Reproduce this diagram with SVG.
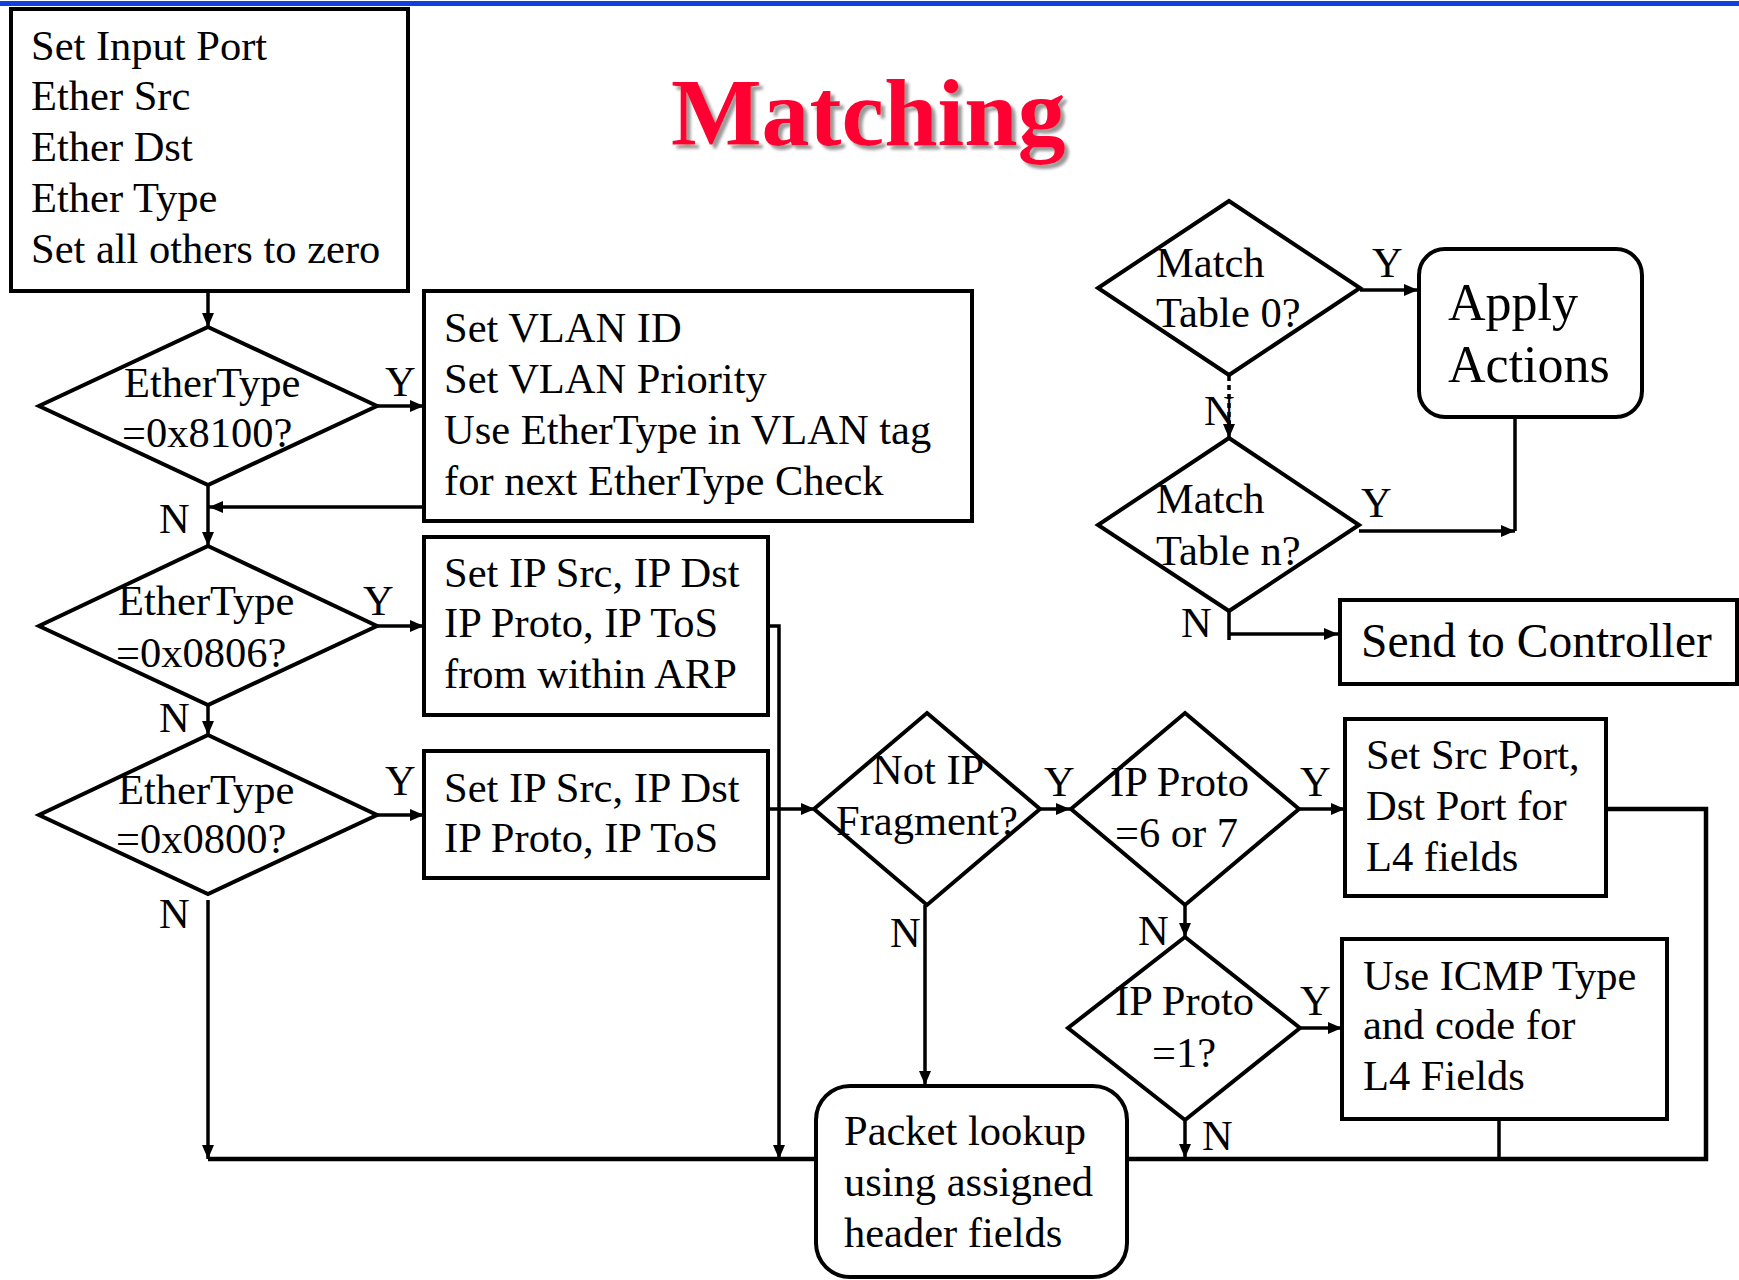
<svg xmlns="http://www.w3.org/2000/svg" width="1739" height="1280" viewBox="0 0 1739 1280">
<defs>
<style>
text{font-family:"Liberation Serif","Times New Roman",serif;fill:#000}
.t{font-size:42.5px}
.box{fill:#fff;stroke:#000;stroke-width:4}
.dia{fill:#fff;stroke:#000;stroke-width:4;stroke-linejoin:miter}
.c{fill:none;stroke:#000;stroke-width:3.5}
.ca{fill:none;stroke:#000;stroke-width:3.5;marker-end:url(#ah)}
.title{font-size:96px;font-weight:bold;fill:#ff0030}
</style>
<marker id="ah" markerUnits="userSpaceOnUse" markerWidth="14" markerHeight="12" refX="14" refY="6" orient="auto">
<path d="M0,0 L14,6 L0,12 z" fill="#000"/>
</marker>
<filter id="shadow" x="-10%" y="-20%" width="125%" height="150%">
<feDropShadow dx="4" dy="4" stdDeviation="1.6" flood-color="#808080" flood-opacity="0.8"/>
</filter>
</defs>
<rect x="0" y="0" width="1739" height="1280" fill="#fff"/>
<rect x="0" y="1" width="1739" height="5" fill="#1040e0"/>

<g id="title">
<text class="title" x="671" y="145" filter="url(#shadow)">Matching</text>
</g>

<g id="connectors">
<line class="ca" x1="208" y1="293" x2="208" y2="327"/>
<line class="ca" x1="377" y1="406" x2="424" y2="406"/>
<line class="ca" x1="424" y1="507" x2="209" y2="507"/>
<line class="ca" x1="208" y1="485" x2="208" y2="546"/>
<line class="ca" x1="377" y1="626" x2="424" y2="626"/>
<line class="ca" x1="208" y1="705" x2="208" y2="735"/>
<line class="ca" x1="377" y1="815" x2="424" y2="815"/>
<polyline class="ca" points="768,626 779,626 779,1159"/>
<line class="ca" x1="768" y1="809" x2="815" y2="809"/>
<line class="ca" x1="208" y1="900" x2="208" y2="1159"/>
<line class="c" x1="208" y1="1159" x2="815" y2="1159" style="stroke-width:4.5"/>
<line class="ca" x1="1040" y1="809" x2="1070" y2="809"/>
<line class="ca" x1="925" y1="905" x2="925" y2="1085"/>
<line class="ca" x1="1299" y1="809" x2="1345" y2="809"/>
<line class="ca" x1="1185" y1="905" x2="1185" y2="937"/>
<line class="ca" x1="1300" y1="1028" x2="1342" y2="1028"/>
<line class="ca" x1="1185" y1="1120" x2="1185" y2="1158"/>
<polyline class="c" points="1606,809 1706,809 1706,1159 1128,1159" style="stroke-width:4.5"/>
<line class="c" x1="1499" y1="1119" x2="1499" y2="1159"/>
<line class="ca" x1="1360" y1="290" x2="1418" y2="290"/>
<line class="c" x1="1229" y1="376" x2="1229" y2="424" style="stroke-dasharray:5,4"/>
<line class="ca" x1="1229" y1="420" x2="1229" y2="438"/>
<line class="c" x1="1515" y1="417" x2="1515" y2="531"/>
<line class="ca" x1="1359" y1="531" x2="1515" y2="531"/>
<line class="c" x1="1229" y1="610" x2="1229" y2="640"/>
<line class="ca" x1="1229" y1="634" x2="1338" y2="634"/>
</g>

<g id="labels">
<text class="t" x="385" y="396">Y</text>
<text class="t" x="363" y="615">Y</text>
<text class="t" x="385" y="795">Y</text>
<text class="t" x="1044" y="796">Y</text>
<text class="t" x="1300" y="796">Y</text>
<text class="t" x="1300" y="1015">Y</text>
<text class="t" x="1372" y="277">Y</text>
<text class="t" x="1361" y="517">Y</text>
<text class="t" x="159" y="533">N</text>
<text class="t" x="159" y="732">N</text>
<text class="t" x="159" y="928">N</text>
<text class="t" x="890" y="947">N</text>
<text class="t" x="1138" y="945">N</text>
<text class="t" x="1202" y="1150">N</text>
<text class="t" x="1204" y="425">N</text>
<text class="t" x="1181" y="637">N</text>
</g>

<g id="init">
<rect class="box" x="11" y="9" width="397" height="282"/>
<text class="t" x="31" y="60">Set Input Port</text>
<text class="t" x="31" y="110">Ether Src</text>
<text class="t" x="31" y="161">Ether Dst</text>
<text class="t" x="31" y="212">Ether Type</text>
<text class="t" x="31" y="263">Set all others to zero</text>
</g>

<g id="d8100">
<polygon class="dia" points="208,327 377,406 208,485 39,406"/>
<text class="t" x="124" y="397">EtherType</text>
<text class="t" x="122" y="447">=0x8100?</text>
</g>

<g id="vlan">
<rect class="box" x="424" y="291" width="548" height="230"/>
<text class="t" x="444" y="342">Set VLAN ID</text>
<text class="t" x="444" y="393">Set VLAN Priority</text>
<text class="t" x="444" y="444">Use EtherType in VLAN tag</text>
<text class="t" x="444" y="495">for next EtherType Check</text>
</g>

<g id="d0806">
<polygon class="dia" points="208,546 377,626 208,705 39,626"/>
<text class="t" x="118" y="615">EtherType</text>
<text class="t" x="116" y="667">=0x0806?</text>
</g>

<g id="arp">
<rect class="box" x="424" y="537" width="344" height="178"/>
<text class="t" x="444" y="587">Set IP Src, IP Dst</text>
<text class="t" x="444" y="637">IP Proto, IP ToS</text>
<text class="t" x="444" y="688">from within ARP</text>
</g>

<g id="d0800">
<polygon class="dia" points="208,735 377,815 208,894 39,815"/>
<text class="t" x="118" y="804">EtherType</text>
<text class="t" x="116" y="853">=0x0800?</text>
</g>

<g id="ip">
<rect class="box" x="424" y="751" width="344" height="127"/>
<text class="t" x="444" y="802">Set IP Src, IP Dst</text>
<text class="t" x="444" y="852">IP Proto, IP ToS</text>
</g>

<g id="frag">
<polygon class="dia" points="927,713 1040,809 927,905 814,809"/>
<text class="t" x="872" y="784">Not IP</text>
<text class="t" x="836" y="835">Fragment?</text>
</g>

<g id="proto67">
<polygon class="dia" points="1185,713 1299,809 1185,905 1071,809"/>
<text class="t" x="1110" y="796">IP Proto</text>
<text class="t" x="1115" y="847">=6 or 7</text>
</g>

<g id="l4ports">
<rect class="box" x="1345" y="719" width="261" height="177"/>
<text class="t" x="1366" y="769">Set Src Port,</text>
<text class="t" x="1366" y="820">Dst Port for</text>
<text class="t" x="1366" y="871">L4 fields</text>
</g>

<g id="proto1">
<polygon class="dia" points="1185,937 1300,1028 1185,1120 1068,1028"/>
<text class="t" x="1115" y="1015">IP Proto</text>
<text class="t" x="1152" y="1067">=1?</text>
</g>

<g id="icmp">
<rect class="box" x="1342" y="939" width="325" height="180"/>
<text class="t" x="1363" y="990">Use ICMP Type</text>
<text class="t" x="1363" y="1039">and code for</text>
<text class="t" x="1363" y="1090">L4 Fields</text>
</g>

<g id="lookup">
<rect class="box" x="816" y="1086" width="311" height="191" rx="34" ry="34"/>
<text class="t" x="844" y="1145">Packet lookup</text>
<text class="t" x="844" y="1196">using assigned</text>
<text class="t" x="844" y="1247">header fields</text>
</g>

<g id="table0">
<polygon class="dia" points="1229,201 1360,288 1229,375 1098,288"/>
<text class="t" x="1156" y="277">Match</text>
<text class="t" x="1156" y="327">Table 0?</text>
</g>

<g id="apply">
<rect class="box" x="1419" y="249" width="223" height="168" rx="26" ry="26"/>
<text x="1448" y="320" style="font-size:52px">Apply</text>
<text x="1448" y="382" style="font-size:52px">Actions</text>
</g>

<g id="tablen">
<polygon class="dia" points="1229,438 1359,525 1229,611 1098,525"/>
<text class="t" x="1156" y="513">Match</text>
<text class="t" x="1156" y="565">Table n?</text>
</g>

<g id="controller">
<rect class="box" x="1340" y="600" width="397" height="84"/>
<text x="1361" y="657" style="font-size:47.5px">Send to Controller</text>
</g>
</svg>
